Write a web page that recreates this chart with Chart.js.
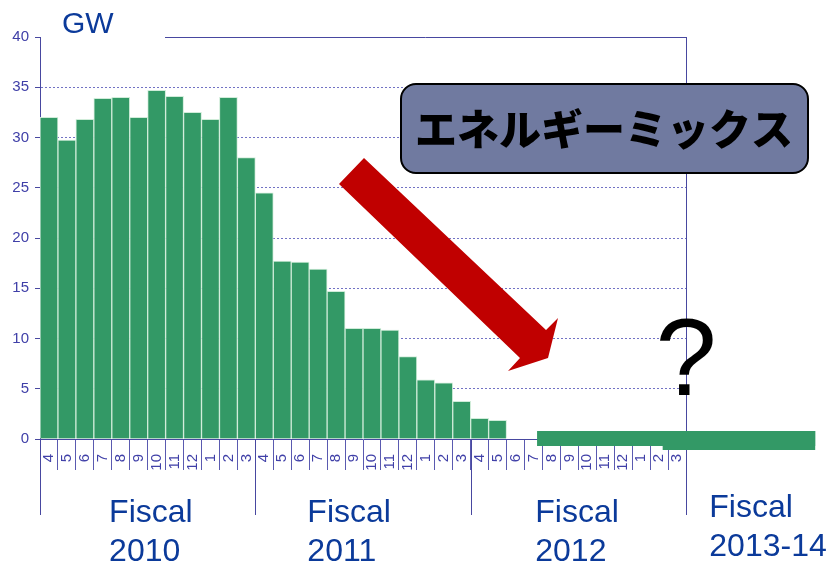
<!DOCTYPE html>
<html>
<head>
<meta charset="utf-8">
<script src="https://cdn.jsdelivr.net/npm/chart.js@4/dist/chart.umd.min.js"></script>
<style>
  html, body { margin: 0; padding: 0; background: #fff; }
  #wrap { width: 827px; height: 563px; position: relative; }
</style>
</head>
<body>
<div id="wrap"><canvas id="gw-chart" width="827" height="563"></canvas></div>
<script>
// 月 (年度ごと 4月〜3月)
var months = ['4', '5', '6', '7', '8', '9', '10', '11', '12', '1', '2', '3'];
var monthLabels = months.concat(months, months);

// GW, 年度別
var fy2010 = [32.0, 29.75, 31.8, 33.9, 34.0, 32.0, 34.7, 34.1, 32.5, 31.8, 34.0, 28.0];
var fy2011 = [24.5, 17.7, 17.6, 16.9, 14.7, 11.0, 11.0, 10.85, 8.2, 5.9, 5.6, 3.75];
var fy2012 = [2.05, 1.85, 0, 0, 0, 0, 0, 0, 0, 0, 0, 0];
var gwValues = fy2010.concat(fy2011, fy2012);

// 将来の帯 (x は月単位, 0 = 2010年4月の左端)
var bandX = [27.7, 43.2];
var bandY = 0.05;
var bandLowX = [34.7, 43.2];
var bandLowY = -0.15;

var fiscalNames = ['2010', '2011', '2012', '2013-14'];
var fiscalLeft = [3.85, 14.9, 27.6, 37.3];
var fiscalRaise = [0, 0, 0, 5];
var yearBreaks = [0, 12, 24, 36];

var axisBlue = '#4848a0';
var labelBlue = '#4040a8';
var textBlue = '#0b3a9a';

var decorations = {
    id: 'decorations',
    beforeDatasetsDraw: function(chart) {
        var ctx = chart.ctx;
        var area = chart.chartArea;
        var step = (area.right - area.left) / 36;
        ctx.save();
        ctx.strokeStyle = axisBlue;
        ctx.lineWidth = 1;
        // 上枠
        ctx.beginPath();
        ctx.moveTo(165, area.top + 0.5);
        ctx.lineTo(area.right, area.top + 0.5);
        ctx.stroke();
        // 年度の区切り
        yearBreaks.forEach(function(b) {
            var x = Math.round(area.left + b * step) + 0.5;
            ctx.beginPath();
            ctx.moveTo(x, b === 36 ? area.top : area.bottom);
            ctx.lineTo(x, 515);
            ctx.stroke();
        });
        ctx.restore();
    },
    afterDraw: function(chart) {
        var ctx = chart.ctx;
        var area = chart.chartArea;
        var step = (area.right - area.left) / 36;
        ctx.save();

        // 赤い矢印
        ctx.fillStyle = '#c00000';
        ctx.beginPath();
        ctx.moveTo(364, 158);
        ctx.lineTo(546, 330);
        ctx.lineTo(558, 318);
        ctx.lineTo(548, 358);
        ctx.lineTo(508, 371);
        ctx.lineTo(520, 358);
        ctx.lineTo(339, 184);
        ctx.closePath();
        ctx.fill();

        // エネルギーミックスの箱
        ctx.beginPath();
        ctx.roundRect(401, 84, 407, 89, 15);
        ctx.fillStyle = '#707aa0';
        ctx.fill();
        ctx.lineWidth = 2;
        ctx.strokeStyle = '#000';
        ctx.stroke();
        ctx.fillStyle = '#000';
        ctx.font = '900 42px "Noto Sans CJK JP"';
        ctx.textAlign = 'center';
        ctx.textBaseline = 'middle';
        ctx.fillText('エネルギーミックス', 604, 129);

        // ?
        ctx.font = '110px "Liberation Sans"';
        ctx.textBaseline = 'alphabetic';
        ctx.fillText('?', area.right, 395);

        // GW
        ctx.fillStyle = textBlue;
        ctx.textAlign = 'left';
        ctx.font = '30px "Liberation Sans"';
        ctx.fillText('GW', 62, 33);

        // 年度ラベル
        ctx.font = '32px "Liberation Sans"';
        fiscalNames.forEach(function(name, i) {
            var x = area.left + fiscalLeft[i] * step;
            ctx.fillText('Fiscal', x, 522 - fiscalRaise[i]);
            ctx.fillText(name, x, 561 - fiscalRaise[i]);
        });
        ctx.restore();
    }
};

var ctx = document.getElementById('gw-chart').getContext('2d');
var chart = new Chart(ctx, {
    type: 'bar',
    data: {
        labels: monthLabels,
        datasets: [{
            label: 'GW',
            data: gwValues,
            backgroundColor: '#339966',
            borderColor: 'rgba(205,235,215,0.95)',
            borderWidth: 1,
            borderSkipped: 'bottom',
            barPercentage: 1,
            categoryPercentage: 1,
            grouped: false,
            order: 2
        }, {
            type: 'line',
            label: 'band',
            xAxisID: 'xb',
            data: bandX.map(function(x) { return { x: x, y: bandY }; }),
            borderColor: '#339966',
            borderWidth: 15,
            borderCapStyle: 'butt',
            pointRadius: 0,
            clip: false,
            order: 1
        }, {
            type: 'line',
            label: 'band2',
            xAxisID: 'xb',
            data: bandLowX.map(function(x) { return { x: x, y: bandLowY }; }),
            borderColor: '#339966',
            borderWidth: 19,
            borderCapStyle: 'butt',
            pointRadius: 0,
            clip: false,
            order: 1
        }]
    },
    options: {
        responsive: false,
        animation: false,
        layout: { padding: { top: 37, right: 141, left: 0, bottom: 0 } },
        plugins: {
            legend: { display: false },
            tooltip: { enabled: false }
        },
        scales: {
            x: {
                afterFit: function(scale) { scale.height = 124; },
                grid: {
                    drawOnChartArea: false,
                    offset: true,
                    tickLength: 31,
                    color: '#5a5ab0'
                },
                border: { color: axisBlue, width: 1 },
                ticks: {
                    autoSkip: false,
                    minRotation: 90,
                    maxRotation: 90,
                    padding: -16,
                    color: labelBlue,
                    font: { family: 'Liberation Sans', size: 15 }
                }
            },
            xb: {
                type: 'linear',
                display: false,
                offset: false,
                min: 0,
                max: 36
            },
            y: {
                min: 0,
                max: 40,
                afterFit: function(scale) { scale.width = 40; },
                grid: {
                    color: function(c) {
                        var v = c.tick.value;
                        return (v === 0 || v === 40) ? 'rgba(0,0,0,0)' : '#7272c4';
                    },
                    tickBorderDash: [],
                    tickColor: axisBlue,
                    tickLength: 5
                },
                border: { color: axisBlue, width: 1, dash: [2, 2] },
                ticks: {
                    stepSize: 5,
                    padding: 6,
                    color: labelBlue,
                    font: { family: 'Liberation Sans', size: 15 }
                }
            }
        }
    },
    plugins: [decorations]
});
window.chart = chart;
</script>
</body>
</html>
